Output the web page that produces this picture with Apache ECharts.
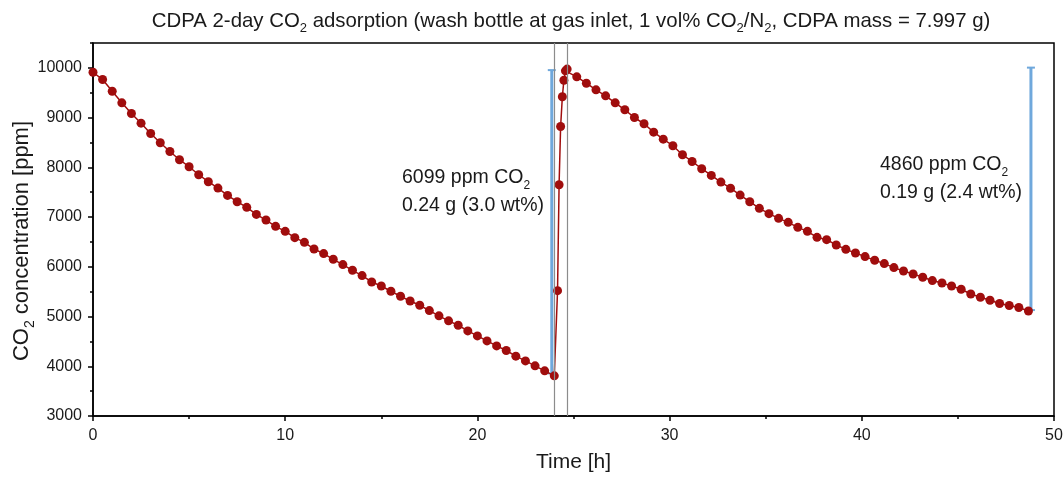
<!DOCTYPE html>
<html>
<head>
<meta charset="utf-8">
<script src="https://cdn.jsdelivr.net/npm/echarts@6/dist/echarts.min.js"></script>
<style>
  html, body { margin: 0; padding: 0; background: #fff; }
  #chart { width: 1063px; height: 477px; }
</style>
</head>
<body>
<div id="chart"></div>
<script>
// first adsorption run, every 0.5 h
var timeA = [0, 0.5, 1, 1.5, 2, 2.5, 3, 3.5, 4, 4.5, 5, 5.5, 6, 6.5, 7, 7.5, 8, 8.5, 9, 9.5,
  10, 10.5, 11, 11.5, 12, 12.5, 13, 13.5, 14, 14.5, 15, 15.5, 16, 16.5, 17, 17.5, 18, 18.5, 19, 19.5,
  20, 20.5, 21, 21.5, 22, 22.5, 23, 23.5, 24];
var ppmA = [9912, 9765, 9530, 9297, 9082, 8888, 8681, 8494, 8319, 8153, 8012, 7851, 7711, 7582, 7436, 7309, 7195, 7054, 6940, 6813,
  6713, 6586, 6492, 6357, 6265, 6151, 6044, 5930, 5823, 5695, 5614, 5508, 5408, 5313, 5227, 5120, 5014, 4913, 4825, 4711,
  4610, 4510, 4410, 4317, 4203, 4108, 4008, 3908, 3807];
// refill with fresh gas
var timeJ = [24.17, 24.25, 24.33, 24.42, 24.5, 24.58, 24.67];
var ppmJ = [5520, 7650, 8820, 9420, 9750, 9940, 9975];
// second adsorption run
var timeB = [25.17, 25.67, 26.17, 26.67, 27.17, 27.67, 28.17, 28.67, 29.17, 29.67, 30.17, 30.67, 31.17, 31.67, 32.17, 32.67,
  33.17, 33.67, 34.17, 34.67, 35.17, 35.67, 36.17, 36.67, 37.17, 37.67, 38.17, 38.67, 39.17, 39.67, 40.17, 40.67,
  41.17, 41.67, 42.17, 42.67, 43.17, 43.67, 44.17, 44.67, 45.17, 45.67, 46.17, 46.67, 47.17, 47.67, 48.17, 48.67];
var ppmB = [9819, 9691, 9558, 9438, 9297, 9157, 9002, 8876, 8707, 8566, 8434, 8253, 8118, 7972, 7837, 7703,
  7580, 7442, 7309, 7175, 7068, 6974, 6894, 6793, 6713, 6592, 6546, 6438, 6351, 6277, 6205, 6131,
  6064, 5984, 5916, 5856, 5789, 5723, 5675, 5614, 5548, 5454, 5387, 5327, 5261, 5221, 5181, 5112];
// gas exchange markers
var markTimes = [24.0, 24.67];
// uptake bars
var barTime = [23.87, 48.8];
var barTop = [9955, 10005];
var barBottom = [3856, 5130];

var FONT = 'Liberation Sans, Arial, sans-serif';
var TXT = '#1a1a1a';
function subStyle(size) {
  return { fontSize: size, fontFamily: FONT, color: TXT, verticalAlign: 'bottom', lineHeight: size, padding: [0, 0, -4, 0] };
}

var pts = [];
timeA.forEach(function (t, i) { pts.push([t, ppmA[i]]); });
timeJ.forEach(function (t, i) { pts.push([t, ppmJ[i]]); });
timeB.forEach(function (t, i) { pts.push([t, ppmB[i]]); });

var bars = barTime.map(function (t, i) { return [t, barTop[i], barBottom[i]]; });

var chart = echarts.init(document.getElementById('chart'), null, { renderer: 'canvas' });

var option = {
  animation: false,
  backgroundColor: '#fff',
  title: {
    text: 'CDPA 2-day CO{sub|2} adsorption (wash bottle at gas inlet, 1 vol% CO{sub|2}/N{sub|2}, CDPA mass = 7.997 g)',
    left: 566, top: 6, textAlign: 'center',
    textStyle: { fontFamily: FONT, fontSize: 20.4, fontWeight: 'normal', color: TXT, rich: { sub: subStyle(13) } }
  },
  grid: {
    left: 93, right: 9, top: 43, bottom: 61,
    containLabel: false, outerBoundsMode: 'none',
    show: true, borderColor: '#000', borderWidth: 1.5
  },
  xAxis: {
    type: 'value', min: 0, max: 50, interval: 10,
    name: 'Time [h]', nameLocation: 'middle', nameGap: 36,
    nameTextStyle: { fontFamily: FONT, fontSize: 21, color: TXT },
    axisLine: { lineStyle: { color: '#000', width: 1.5 } },
    axisTick: { inside: false, length: 5, lineStyle: { color: '#000', width: 1.5 } },
    minorTick: { show: true, splitNumber: 2, length: 3, lineStyle: { color: '#000', width: 1.5 } },
    axisLabel: { fontFamily: FONT, fontSize: 16, color: TXT, margin: 12 },
    splitLine: { show: false }
  },
  yAxis: [{
    type: 'value', min: 3000, max: 10500, interval: 1000,
    axisLine: { lineStyle: { color: '#000', width: 1.5 } },
    axisTick: { length: 5, lineStyle: { color: '#000', width: 1.5 } },
    axisLabel: {
      fontFamily: FONT, fontSize: 16, color: TXT, margin: 11, showMaxLabel: false,
      formatter: function (v) { return String(v); }
    },
    splitLine: { show: false }
  }, {
    // minor ticks every 500 ppm
    type: 'value', min: 3000, max: 10500, interval: 500, position: 'left',
    axisLine: { show: false },
    axisTick: { length: 3, lineStyle: { color: '#000', width: 1.5 } },
    axisLabel: { show: false },
    splitLine: { show: false }
  }],
  series: [{
    type: 'custom',
    z: 2,
    renderItem: function (params, api) {
      var top = api.coord([api.value(0), api.value(1)]);
      var bot = api.coord([api.value(0), api.value(2)]);
      var st = { stroke: '#6fa8dc', lineWidth: 3 };
      var cap = { stroke: '#6fa8dc', lineWidth: 2 };
      return {
        type: 'group',
        children: [
          { type: 'line', shape: { x1: top[0], y1: top[1], x2: bot[0], y2: bot[1] }, style: st },
          { type: 'line', shape: { x1: top[0] - 4, y1: top[1], x2: top[0] + 4, y2: top[1] }, style: cap },
          { type: 'line', shape: { x1: bot[0] - 4, y1: bot[1], x2: bot[0] + 4, y2: bot[1] }, style: cap }
        ]
      };
    },
    data: bars
  }, {
    type: 'line',
    z: 3,
    data: pts,
    symbol: 'circle',
    symbolSize: 9,
    itemStyle: { color: '#a00d0d' },
    lineStyle: { color: '#a00d0d', width: 1.5 },
    markLine: {
      silent: true, symbol: 'none', label: { show: false },
      lineStyle: { color: '#8c8c8c', width: 1.2, type: 'solid' },
      data: markTimes.map(function (t) { return { xAxis: t }; })
    }
  }],
  graphic: [
    // y axis title, rotated
    { type: 'text', x: 22, y: 241, rotation: Math.PI / 2,
      style: { text: 'CO{sub|2} concentration [ppm]', font: '22px ' + FONT, fill: TXT,
        align: 'center', verticalAlign: 'middle', rich: { sub: subStyle(14) } } },
    { type: 'text', left: 402, top: 168, style: { text: '6099 ppm CO{sub|2}', font: '19.5px ' + FONT, fill: TXT, rich: { sub: subStyle(12) } } },
    { type: 'text', left: 402, top: 196, style: { text: '0.24 g (3.0 wt%)', font: '19.5px ' + FONT, fill: TXT } },
    { type: 'text', left: 880, top: 155, style: { text: '4860 ppm CO{sub|2}', font: '19.5px ' + FONT, fill: TXT, rich: { sub: subStyle(12) } } },
    { type: 'text', left: 880, top: 183, style: { text: '0.19 g (2.4 wt%)', font: '19.5px ' + FONT, fill: TXT } }
  ]
};
chart.setOption(option);
</script>
</body>
</html>
